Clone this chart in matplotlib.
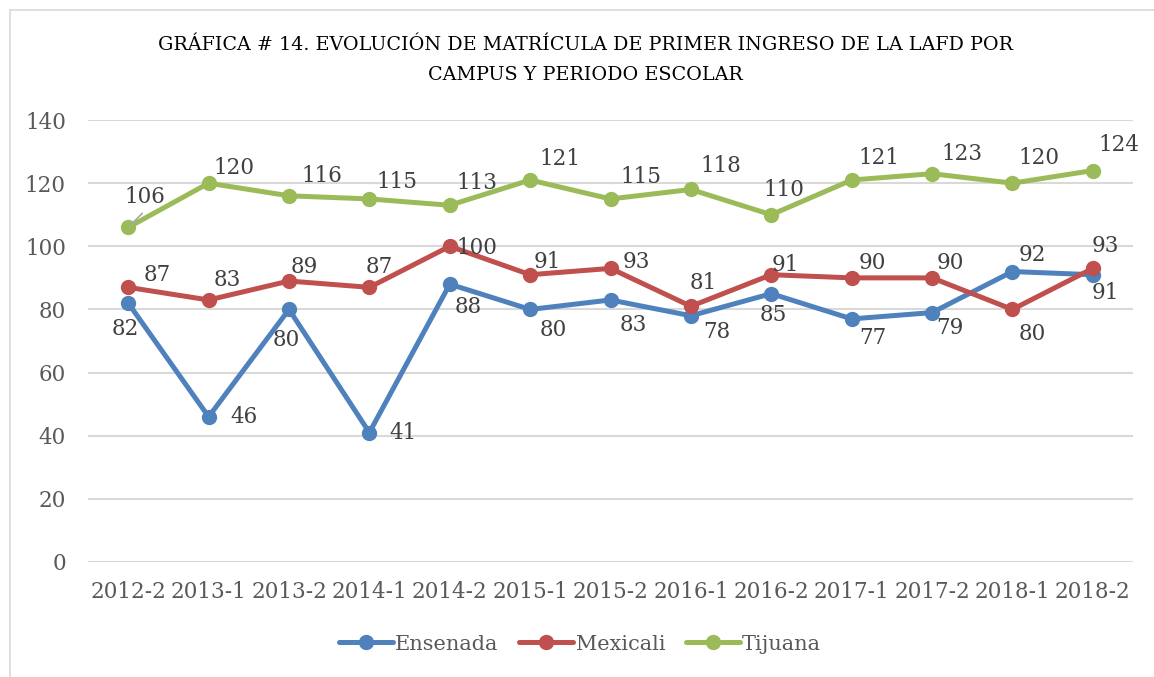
import matplotlib.pyplot as plt
from matplotlib.patches import Rectangle

periods = ['2012-2', '2013-1', '2013-2', '2014-1', '2014-2', '2015-1', '2015-2',
           '2016-1', '2016-2', '2017-1', '2017-2', '2018-1', '2018-2']
ensenada = [82, 46, 80, 41, 88, 80, 83, 78, 85, 77, 79, 92, 91]
mexicali = [87, 83, 89, 87, 100, 91, 93, 81, 91, 90, 90, 80, 93]
tijuana = [106, 120, 116, 115, 113, 121, 115, 118, 110, 121, 123, 120, 124]

# label offsets in pixels (dx, dy up), placed by hand like in the original
off_ens = [(-3, -26), (35, 0), (-3, -31), (34, 0), (18, -23), (23, -21), (23, -25),
           (26, -16), (2, -21), (21, -19), (18, -15), (20, 17), (13, -18)]
off_mex = [(29, 12), (19, 20), (15, 14), (10, 20), (27, -2), (17, 13), (26, 6),
           (12, 23), (14, 10), (21, 15), (18, 15), (20, -25), (13, 22)]
off_tij = [(17, 30), (25, 15), (33, 20), (28, 17), (27, 22), (30, 21), (30, 22),
           (30, 23), (13, 25), (27, 22), (30, 20), (27, 25), (26, 26)]

plt.rcParams['font.family'] = ['DejaVu Serif']

fig = plt.figure(figsize=(11.54, 6.77), dpi=100)
ax = fig.add_axes([0.0763, 0.1699, 0.9055, 0.6528])

# outer chart frame
fig.patches.append(Rectangle((10 / 1154, -0.1), 1.2, 1 - 10 / 677 + 0.1,
                             transform=fig.transFigure, fill=False,
                             edgecolor='#d9d9d9', linewidth=1.2))

series = [('Ensenada', ensenada, '#4f81bd', off_ens),
          ('Mexicali', mexicali, '#c0504d', off_mex),
          ('Tijuana', tijuana, '#9bbb59', off_tij)]
x = list(range(len(periods)))
for name, vals, col, offs in series:
    ax.plot(x, vals, color=col, linewidth=3.6, marker='o', markersize=10,
            label=name, solid_capstyle='round', zorder=3)
    for xi, v, (dx, dy) in zip(x, vals, offs):
        ax.annotate(str(v), (xi, v), xytext=(dx, dy), textcoords='offset pixels',
                    ha='center', va='center', fontsize=15.5, color='#404040',
                    zorder=4)

# little leader line on the first Tijuana label
ax.annotate('', (x[0], tijuana[0]), xytext=(14, 14), textcoords='offset pixels',
            arrowprops=dict(arrowstyle='-', color='#a6a6a6', lw=1.2,
                            shrinkA=0, shrinkB=2), zorder=4)

ax.set_xlim(-0.5, len(periods) - 0.5)
ax.set_ylim(0, 140)
ax.set_yticks(range(0, 141, 20))
ax.set_xticks(x)
ax.set_xticklabels(periods)
ax.grid(axis='y', color='#d9d9d9', linewidth=1.5)
ax.set_axisbelow(True)
for s in ax.spines.values():
    s.set_visible(False)
ax.tick_params(axis='y', length=0, pad=16, labelsize=15.5, labelcolor='#595959')
ax.tick_params(axis='x', length=0, pad=14, labelsize=15.5, labelcolor='#595959')

fig.text(0.507, 1 - 45 / 677, 'GRÁFICA # 14. EVOLUCIÓN DE MATRÍCULA DE PRIMER INGRESO DE LA LAFD POR',
         ha='center', va='center', fontsize=13.8, color='#000000')
fig.text(0.507, 1 - 75 / 677, 'CAMPUS Y PERIODO ESCOLAR',
         ha='center', va='center', fontsize=13.8, color='#000000')

fig.legend(loc='center', bbox_to_anchor=(0.5026, 1 - 644 / 677), ncol=3,
           frameon=False, fontsize=15, handlelength=2.6, columnspacing=1.0,
           handletextpad=0.1, labelcolor='#595959')

fig.savefig('out.png', dpi=100)
